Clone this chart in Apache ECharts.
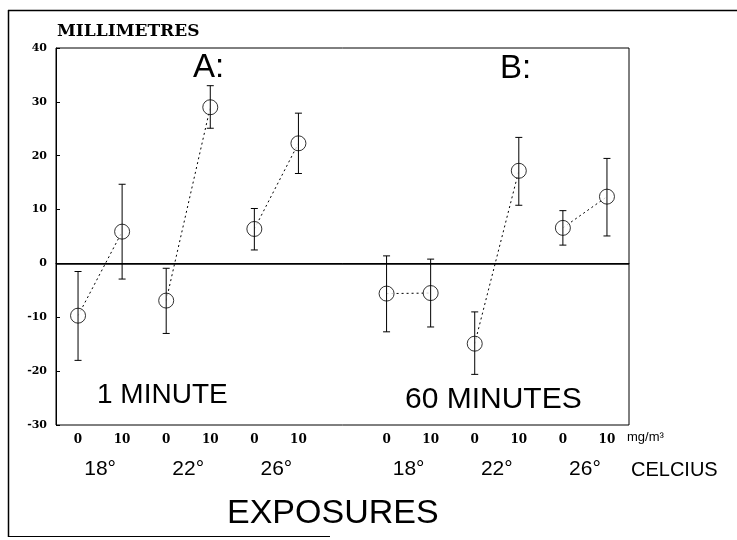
<!DOCTYPE html>
<html>
<head>
<meta charset="utf-8">
<script src="https://cdn.jsdelivr.net/npm/echarts@6/dist/echarts.min.js"></script>
<style>html,body{margin:0;padding:0;background:#fff;}#chart{width:737px;height:540px;}</style>
</head>
<body>
<div id="chart"></div>
<script>
// Dose tick labels for each category slot (slot 6 is the gap between A and B)
const doseLabels = ['0', '10', '0', '10', '0', '10', '', '0', '10', '0', '10', '0', '10'];
// Temperature labels (one per dose pair)
const tempLabels = ['18°', '22°', '26°', '18°', '22°', '26°'];
// Slot index of each measurement
const slots = [0, 1, 2, 3, 4, 5, 7, 8, 9, 10, 11, 12];
// Mean values (millimetres)
const means = [-9.7, 5.9, -6.9, 29.0, 6.4, 22.3, -5.6, -5.5, -14.9, 17.2, 6.6, 12.4];
// Upper and lower ends of the error bars
const upper = [-1.5, 14.7, -0.9, 33.0, 10.2, 27.9, 1.4, 0.8, -9.0, 23.4, 9.8, 19.5];
const lower = [-18.0, -2.9, -13.0, 25.1, 2.5, 16.7, -12.7, -11.8, -20.6, 10.8, 3.4, 5.1];
// Y tick settings
const yMin = -30, yMax = 40, yStep = 10;

const chart = echarts.init(document.getElementById('chart'), null, {renderer: 'canvas'});

// map of temp-axis positions (pair boundaries) to labels
const tempAt = {};
tempLabels.forEach((t, i) => {
  const g = Math.floor(i / 3), k = i % 3;
  tempAt[1 + 2 * k + 7 * g] = t;
});

const pairSeries = [];
for (let p = 0; p < slots.length / 2; p++) {
  pairSeries.push({
    type: 'line',
    data: [[slots[2 * p], means[2 * p]], [slots[2 * p + 1], means[2 * p + 1]]],
    symbol: 'none',
    lineStyle: {color: '#000', width: 1, type: [2, 3]},
    z: 1,
    silent: true,
    animation: false
  });
}

const SERIF = '"DejaVu Serif", serif';
const serifLbl = {fontFamily: SERIF, fontWeight: 'bold', fontSize: 11, color: '#000'};

const option = {
  animation: false,
  backgroundColor: '#fff',
  grid: {left: 56, right: 108, top: 48, bottom: 115, show: true, borderColor: '#000', borderWidth: 1, backgroundColor: 'transparent'},
  xAxis: [
    {
      type: 'category', data: doseLabels, boundaryGap: true,
      axisLine: {lineStyle: {color: '#000', width: 1}},
      axisTick: {inside: true, alignWithLabel: true, interval: 0, length: 4, lineStyle: {color: '#000'}},
      axisLabel: Object.assign({interval: 0, margin: 9}, serifLbl, {fontSize: 12}),
      splitLine: {show: false}
    },
    {
      type: 'value', position: 'bottom', min: 0, max: 13, interval: 1, offset: 27,
      axisLine: {show: false}, axisTick: {show: false}, splitLine: {show: false},
      axisLabel: {
        formatter: v => tempAt[v] || '', margin: 7, showMinLabel: true, showMaxLabel: true,
        fontFamily: 'Liberation Sans', fontSize: 21, color: '#000'
      }
    }
  ],
  yAxis: {
    type: 'value', min: yMin, max: yMax, interval: yStep,
    axisLine: {show: true, lineStyle: {color: '#000', width: 1}},
    axisTick: {show: true, inside: true, length: 4, lineStyle: {color: '#000'}},
    axisLabel: Object.assign({margin: 9}, serifLbl),
    splitLine: {show: false}
  },
  series: [
    ...pairSeries,
    {
      type: 'custom',
      z: 3,
      silent: true,
      data: slots.map((s, i) => [s, lower[i], upper[i]]),
      renderItem: function (params, api) {
        const x = api.value(0);
        const lo = api.coord([x, api.value(1)]);
        const hi = api.coord([x, api.value(2)]);
        const w = 3.5;
        const st = {stroke: '#000', lineWidth: 1};
        return {
          type: 'group',
          children: [
            {type: 'line', shape: {x1: lo[0], y1: lo[1], x2: hi[0], y2: hi[1]}, style: st},
            {type: 'line', shape: {x1: lo[0] - w, y1: lo[1], x2: lo[0] + w, y2: lo[1]}, style: st},
            {type: 'line', shape: {x1: hi[0] - w, y1: hi[1], x2: hi[0] + w, y2: hi[1]}, style: st}
          ]
        };
      }
    },
    {
      type: 'scatter',
      z: 2,
      silent: true,
      data: slots.map((s, i) => [s, means[i]]),
      symbol: 'circle', symbolSize: 15,
      itemStyle: {color: '#fff', borderColor: '#000', borderWidth: 1},
      markLine: {
        silent: true, symbol: 'none', label: {show: false},
        lineStyle: {color: '#000', width: 1.5, type: 'solid'},
        data: [{yAxis: 0}]
      }
    }
  ],
  graphic: [
    {type: 'line', shape: {x1: 8, y1: 10.5, x2: 737, y2: 10.5}, style: {stroke: '#000', lineWidth: 1.5}},
    {type: 'line', shape: {x1: 8.5, y1: 10, x2: 8.5, y2: 537}, style: {stroke: '#000', lineWidth: 1.5}},
    {type: 'line', shape: {x1: 8, y1: 536.5, x2: 330, y2: 536.5}, style: {stroke: '#000', lineWidth: 1}},
    {type: 'text', left: 57, top: 23, style: {text: 'MILLIMETRES', fontFamily: SERIF, fontWeight: 'bold', fontSize: 17, fill: '#000'}},
    {type: 'text', left: 193, top: 51, style: {text: 'A:', fontFamily: 'Liberation Sans', fontSize: 33, fill: '#000'}},
    {type: 'text', left: 500, top: 52, style: {text: 'B:', fontFamily: 'Liberation Sans', fontSize: 33, fill: '#000'}},
    {type: 'text', left: 97, top: 381, style: {text: '1 MINUTE', fontFamily: 'Liberation Sans', fontSize: 28, fill: '#000'}},
    {type: 'text', left: 405, top: 385, style: {text: '60 MINUTES', fontFamily: 'Liberation Sans', fontSize: 30, fill: '#000'}},
    {type: 'text', left: 627, top: 431, style: {text: 'mg/m³', fontFamily: 'Liberation Sans', fontSize: 13, fill: '#000'}},
    {type: 'text', left: 631, top: 460, style: {text: 'CELCIUS', fontFamily: 'Liberation Sans', fontSize: 20, fill: '#000'}},
    {type: 'text', left: 227, top: 497, style: {text: 'EXPOSURES', fontFamily: 'Liberation Sans', fontSize: 34, fill: '#000'}}
  ]
};
chart.setOption(option);
</script>
</body>
</html>
